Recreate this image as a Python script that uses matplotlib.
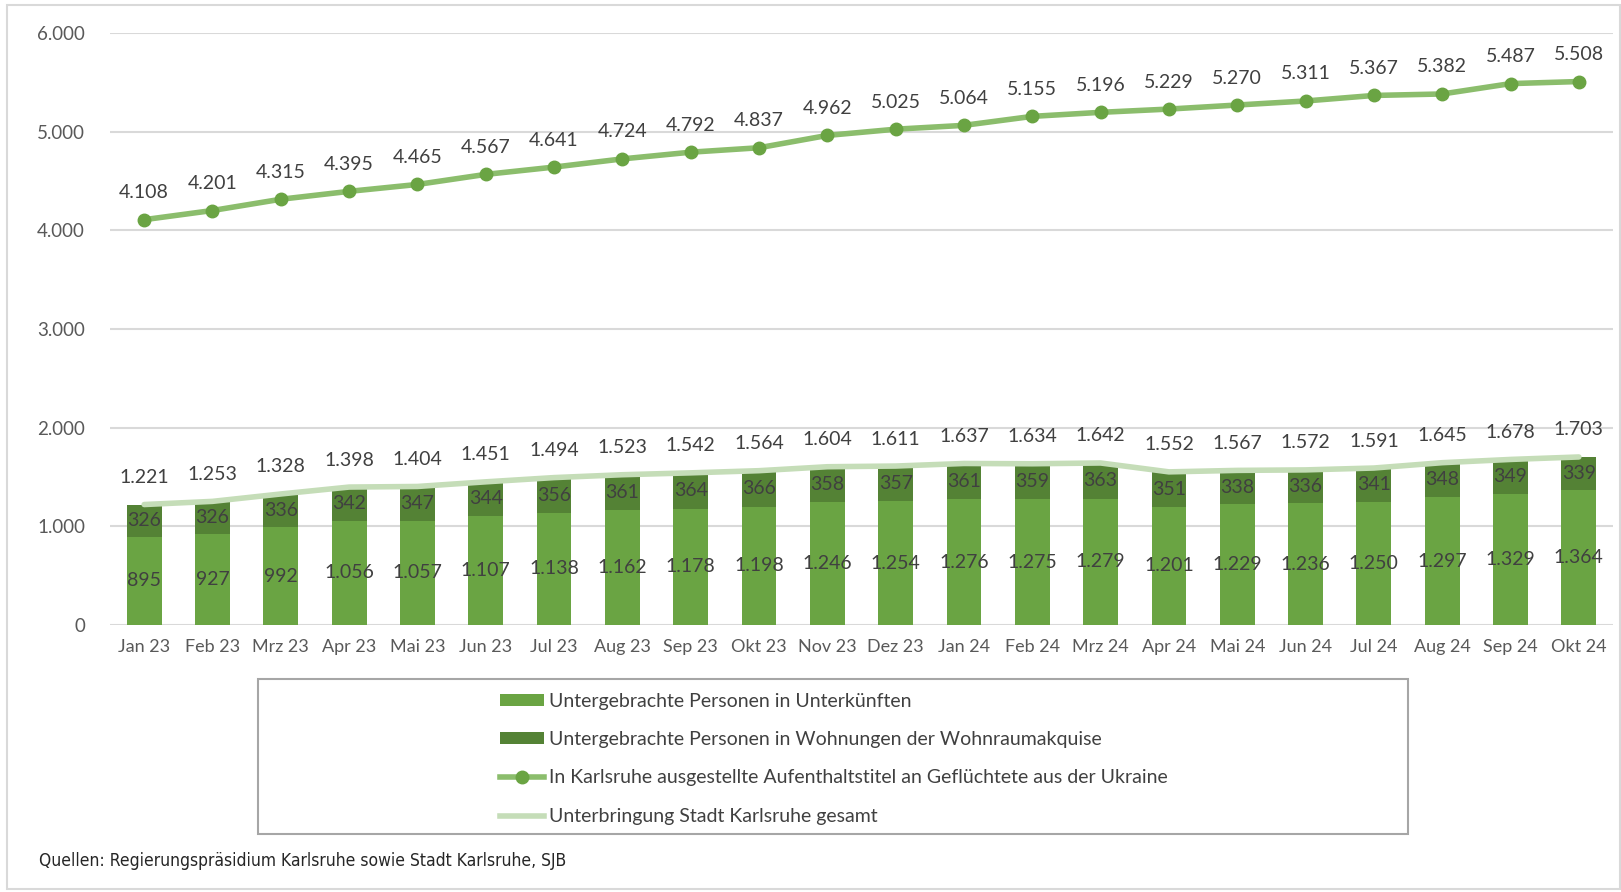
import matplotlib.pyplot as plt
import numpy as np
from matplotlib.patches import Patch, Rectangle
from matplotlib.lines import Line2D

months = ["Jan 23", "Feb 23", "Mrz 23", "Apr 23", "Mai 23", "Jun 23", "Jul 23", "Aug 23",
          "Sep 23", "Okt 23", "Nov 23", "Dez 23", "Jan 24", "Feb 24", "Mrz 24", "Apr 24",
          "Mai 24", "Jun 24", "Jul 24", "Aug 24", "Sep 24", "Okt 24"]
unterkuenfte = [895, 927, 992, 1056, 1057, 1107, 1138, 1162, 1178, 1198, 1246, 1254,
                1276, 1275, 1279, 1201, 1229, 1236, 1250, 1297, 1329, 1364]
wohnungen = [326, 326, 336, 342, 347, 344, 356, 361, 364, 366, 358, 357,
             361, 359, 363, 351, 338, 336, 341, 348, 349, 339]
gesamt = [1221, 1253, 1328, 1398, 1404, 1451, 1494, 1523, 1542, 1564, 1604, 1611,
          1637, 1634, 1642, 1552, 1567, 1572, 1591, 1645, 1678, 1703]
aufenthalt = [4108, 4201, 4315, 4395, 4465, 4567, 4641, 4724, 4792, 4837, 4962, 5025,
              5064, 5155, 5196, 5229, 5270, 5311, 5367, 5382, 5487, 5508]

light = "#6AA443"
dark = "#548235"
line_c = "#8BBD6C"
marker_c = "#6AA443"
total_c = "#C5DDB8"
txt = "#404040"

plt.rcParams['font.family'] = ['Lato', 'DejaVu Sans']

def de(v):
    return f"{v:,}".replace(",", ".")

W, H = 1621, 892
fig = plt.figure(figsize=(W / 100, H / 100), dpi=100)
ax = fig.add_axes([110 / W, 1 - 625 / H, (1613 - 110) / W, (625 - 33) / H])

x = np.arange(len(months))
ax.bar(x, unterkuenfte, width=0.51, color=light, zorder=2)
ax.bar(x, wohnungen, width=0.51, bottom=unterkuenfte, color=dark, zorder=2)
ax.plot(x, gesamt, color=total_c, lw=4, zorder=3, solid_capstyle="round")
ax.plot(x, aufenthalt, color=line_c, lw=4, zorder=3, solid_capstyle="round")
ax.plot(x, aufenthalt, "o", color=marker_c, ms=9, zorder=4)

for i in x:
    ax.text(i, unterkuenfte[i] / 2, de(unterkuenfte[i]), ha="center", va="center",
            fontsize=14, color=txt, zorder=5)
    ax.text(i, unterkuenfte[i] + wohnungen[i] / 2, de(wohnungen[i]), ha="center", va="center",
            fontsize=14, color=txt, zorder=5)
    ax.annotate(de(gesamt[i]), (i, gesamt[i]), xytext=(0, 27), textcoords="offset pixels",
                ha="center", va="center", fontsize=14, color=txt)
    ax.annotate(de(aufenthalt[i]), (i, aufenthalt[i]), xytext=(0, 27), textcoords="offset pixels",
                ha="center", va="center", fontsize=14, color=txt, annotation_clip=False)

ax.set_xlim(-0.5, len(months) - 0.5)
ax.set_ylim(0, 6000)
ax.set_yticks(range(0, 6001, 1000))
ax.set_yticklabels([de(v) for v in range(0, 6001, 1000)])
ax.set_xticks(x)
ax.set_xticklabels(months)
ax.tick_params(axis="both", length=0, labelsize=13, labelcolor="#595959")
ax.tick_params(axis="y", labelsize=13.5, pad=18)
ax.tick_params(axis="x", pad=10)
ax.grid(axis="y", color="#D9D9D9", lw=1.5, zorder=0)
for s in ax.spines.values():
    s.set_visible(False)

# outer frame
fig.patches.append(Rectangle((7 / W, 0.003), 1 - 8 / W, 1 - 5 / H - 0.003, transform=fig.transFigure,
                             fill=False, edgecolor="#D9D9D9", lw=1.5))
# legend box
fig.patches.append(Rectangle((258 / W, 1 - 834 / H), (1408 - 258) / W, (834 - 679) / H,
                             transform=fig.transFigure, fill=False, edgecolor="#A6A6A6", lw=1.5))

handles = [
    Patch(facecolor=light, label="Untergebrachte Personen in Unterkünften"),
    Patch(facecolor=dark, label="Untergebrachte Personen in Wohnungen der Wohnraumakquise"),
    Line2D([], [], color=line_c, lw=4, marker="o", ms=9, markerfacecolor=marker_c,
           markeredgecolor=marker_c, label="In Karlsruhe ausgestellte Aufenthaltstitel an Geflüchtete aus der Ukraine"),
    Line2D([], [], color=total_c, lw=4, label="Unterbringung Stadt Karlsruhe gesamt"),
]
fig.legend(handles=handles, loc="upper left", bbox_to_anchor=(490 / W, 1 - 683 / H),
           frameon=False, fontsize=14, labelcolor=txt, handlelength=2.3, handleheight=0.55,
           handletextpad=0.25, labelspacing=1.1, borderpad=0)

fig.text(39 / W, 1 - 861 / H, "Quellen: Regierungspräsidium Karlsruhe sowie Stadt Karlsruhe, SJB",
         fontsize=12.5, color="#262626", va="center", stretch="condensed",
         family=["Liberation Sans Narrow", "DejaVu Sans"])

fig.savefig("out.png", dpi=100)
